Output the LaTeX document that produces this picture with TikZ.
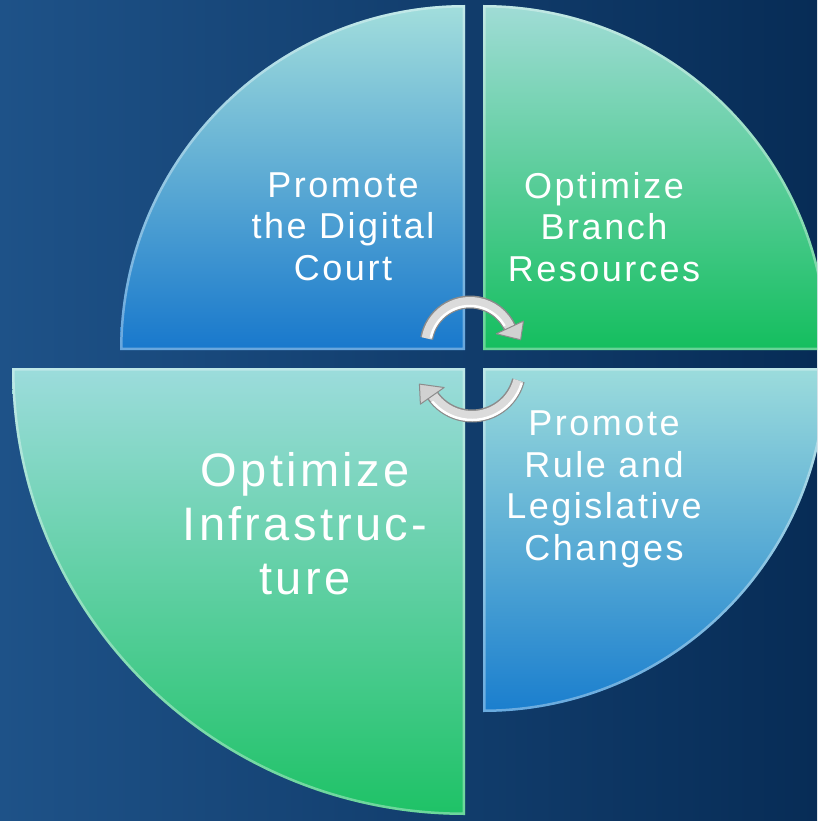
\documentclass[tikz,border=0pt]{standalone}
\usepackage{fontspec}
\usetikzlibrary{calc}
\newfontfamily\lblfont{Liberation Sans}[LetterSpace=7]
\definecolor{bgL}{HTML}{1E5288}
\definecolor{bgR}{HTML}{072C56}
\definecolor{tlTop}{HTML}{A2DEDC}
\definecolor{tlBot}{HTML}{1878CC}
\definecolor{trTop}{HTML}{A0DCD6}
\definecolor{trBot}{HTML}{14BE5E}
\definecolor{blTop}{HTML}{9CDCDC}
\definecolor{blBot}{HTML}{1EC266}
\definecolor{brTop}{HTML}{9CDCDC}
\definecolor{brBot}{HTML}{1A7ECE}
\begin{document}
\begin{tikzpicture}[x=1pt,y=-1pt,
  lbl/.style={text=white, align=center, inner sep=0pt,
    font=\lblfont\fontsize{36}{41.5}\selectfont},
  biglbl/.style={text=white, align=center, inner sep=0pt,
    font=\lblfont\fontsize{47}{54}\selectfont},
  rim/.style={white, opacity=.35, line width=5pt},
  silverout/.style={line width=13pt, color=black!45},
  silverin/.style={line width=10pt, color=black!14},
  silverhi/.style={line width=2.5pt, color=white},
  silverhead/.style={fill=black!18, draw=black!45, line width=1pt, line join=round}
]
\useasboundingbox (0,0) rectangle (817,821);
\clip (0,0) rectangle (817,821);
\shade[left color=bgL, right color=bgR] (0,0) rectangle (817,821);

\def\pTL{(465,350) -- (120,350) arc[start angle=180,end angle=270,radius=345] -- cycle}
\def\pTR{(483,350) -- (483,5) arc[start angle=270,end angle=360,radius=345] -- cycle}
\def\pBL{(465,368) -- (465,815) arc[start angle=90,end angle=180,x radius=453,y radius=447] -- cycle}
\def\pBR{(483,368) -- (827,368) arc[start angle=0,end angle=90,radius=344] -- cycle}

\shade[top color=tlTop, bottom color=tlBot] \pTL;
\begin{scope}\clip \pTL; \draw[rim] \pTL; \end{scope}
\shade[top color=trTop, bottom color=trBot] \pTR;
\begin{scope}\clip \pTR; \draw[rim] \pTR; \end{scope}
\shade[top color=blTop, bottom color=blBot] \pBL;
\begin{scope}\clip \pBL; \draw[rim] \pBL; \end{scope}
\shade[top color=brTop, bottom color=brBot] \pBR;
\begin{scope}\clip \pBR; \draw[rim] \pBR; \end{scope}

\node[lbl, anchor=base] (tl) at (343,280) {Promote\\the Digital\\Court};
\node[lbl, anchor=base] (tr) at (604,281) {Optimize\\Branch\\Resources};
\node[lbl, anchor=base] (br) at (604,560) {Promote\\Rule and\\Legislative\\Changes};
\node[biglbl, anchor=base] (bl) at (305,594) {Optimize\\Infrastruc-\\ture};

% circular arrows
\coordinate (ca) at (470,346);
\coordinate (cb) at (472,368);
\draw[silverout] ($(ca)+(190:44)$) arc[start angle=190,end angle=336,radius=44];
\draw[silverin] ($(ca)+(190:44)$) arc[start angle=190,end angle=336,radius=44];
\draw[silverhi] ($(ca)+(192:40)$) arc[start angle=192,end angle=330,radius=40];
\filldraw[silverhead] ($(ca)+(335:29)$) -- ($(ca)+(353:51)$) -- ($(ca)+(335:59)$) -- cycle;

\draw[silverout] ($(cb)+(15:48)$) arc[start angle=15,end angle=146,radius=48];
\draw[silverin] ($(cb)+(15:48)$) arc[start angle=15,end angle=146,radius=48];
\draw[silverhi] ($(cb)+(17:52)$) arc[start angle=17,end angle=140,radius=52];
\filldraw[silverhead] ($(cb)+(145:34)$) -- ($(cb)+(163:55)$) -- ($(cb)+(145:63)$) -- cycle;
\end{tikzpicture}
\end{document}
